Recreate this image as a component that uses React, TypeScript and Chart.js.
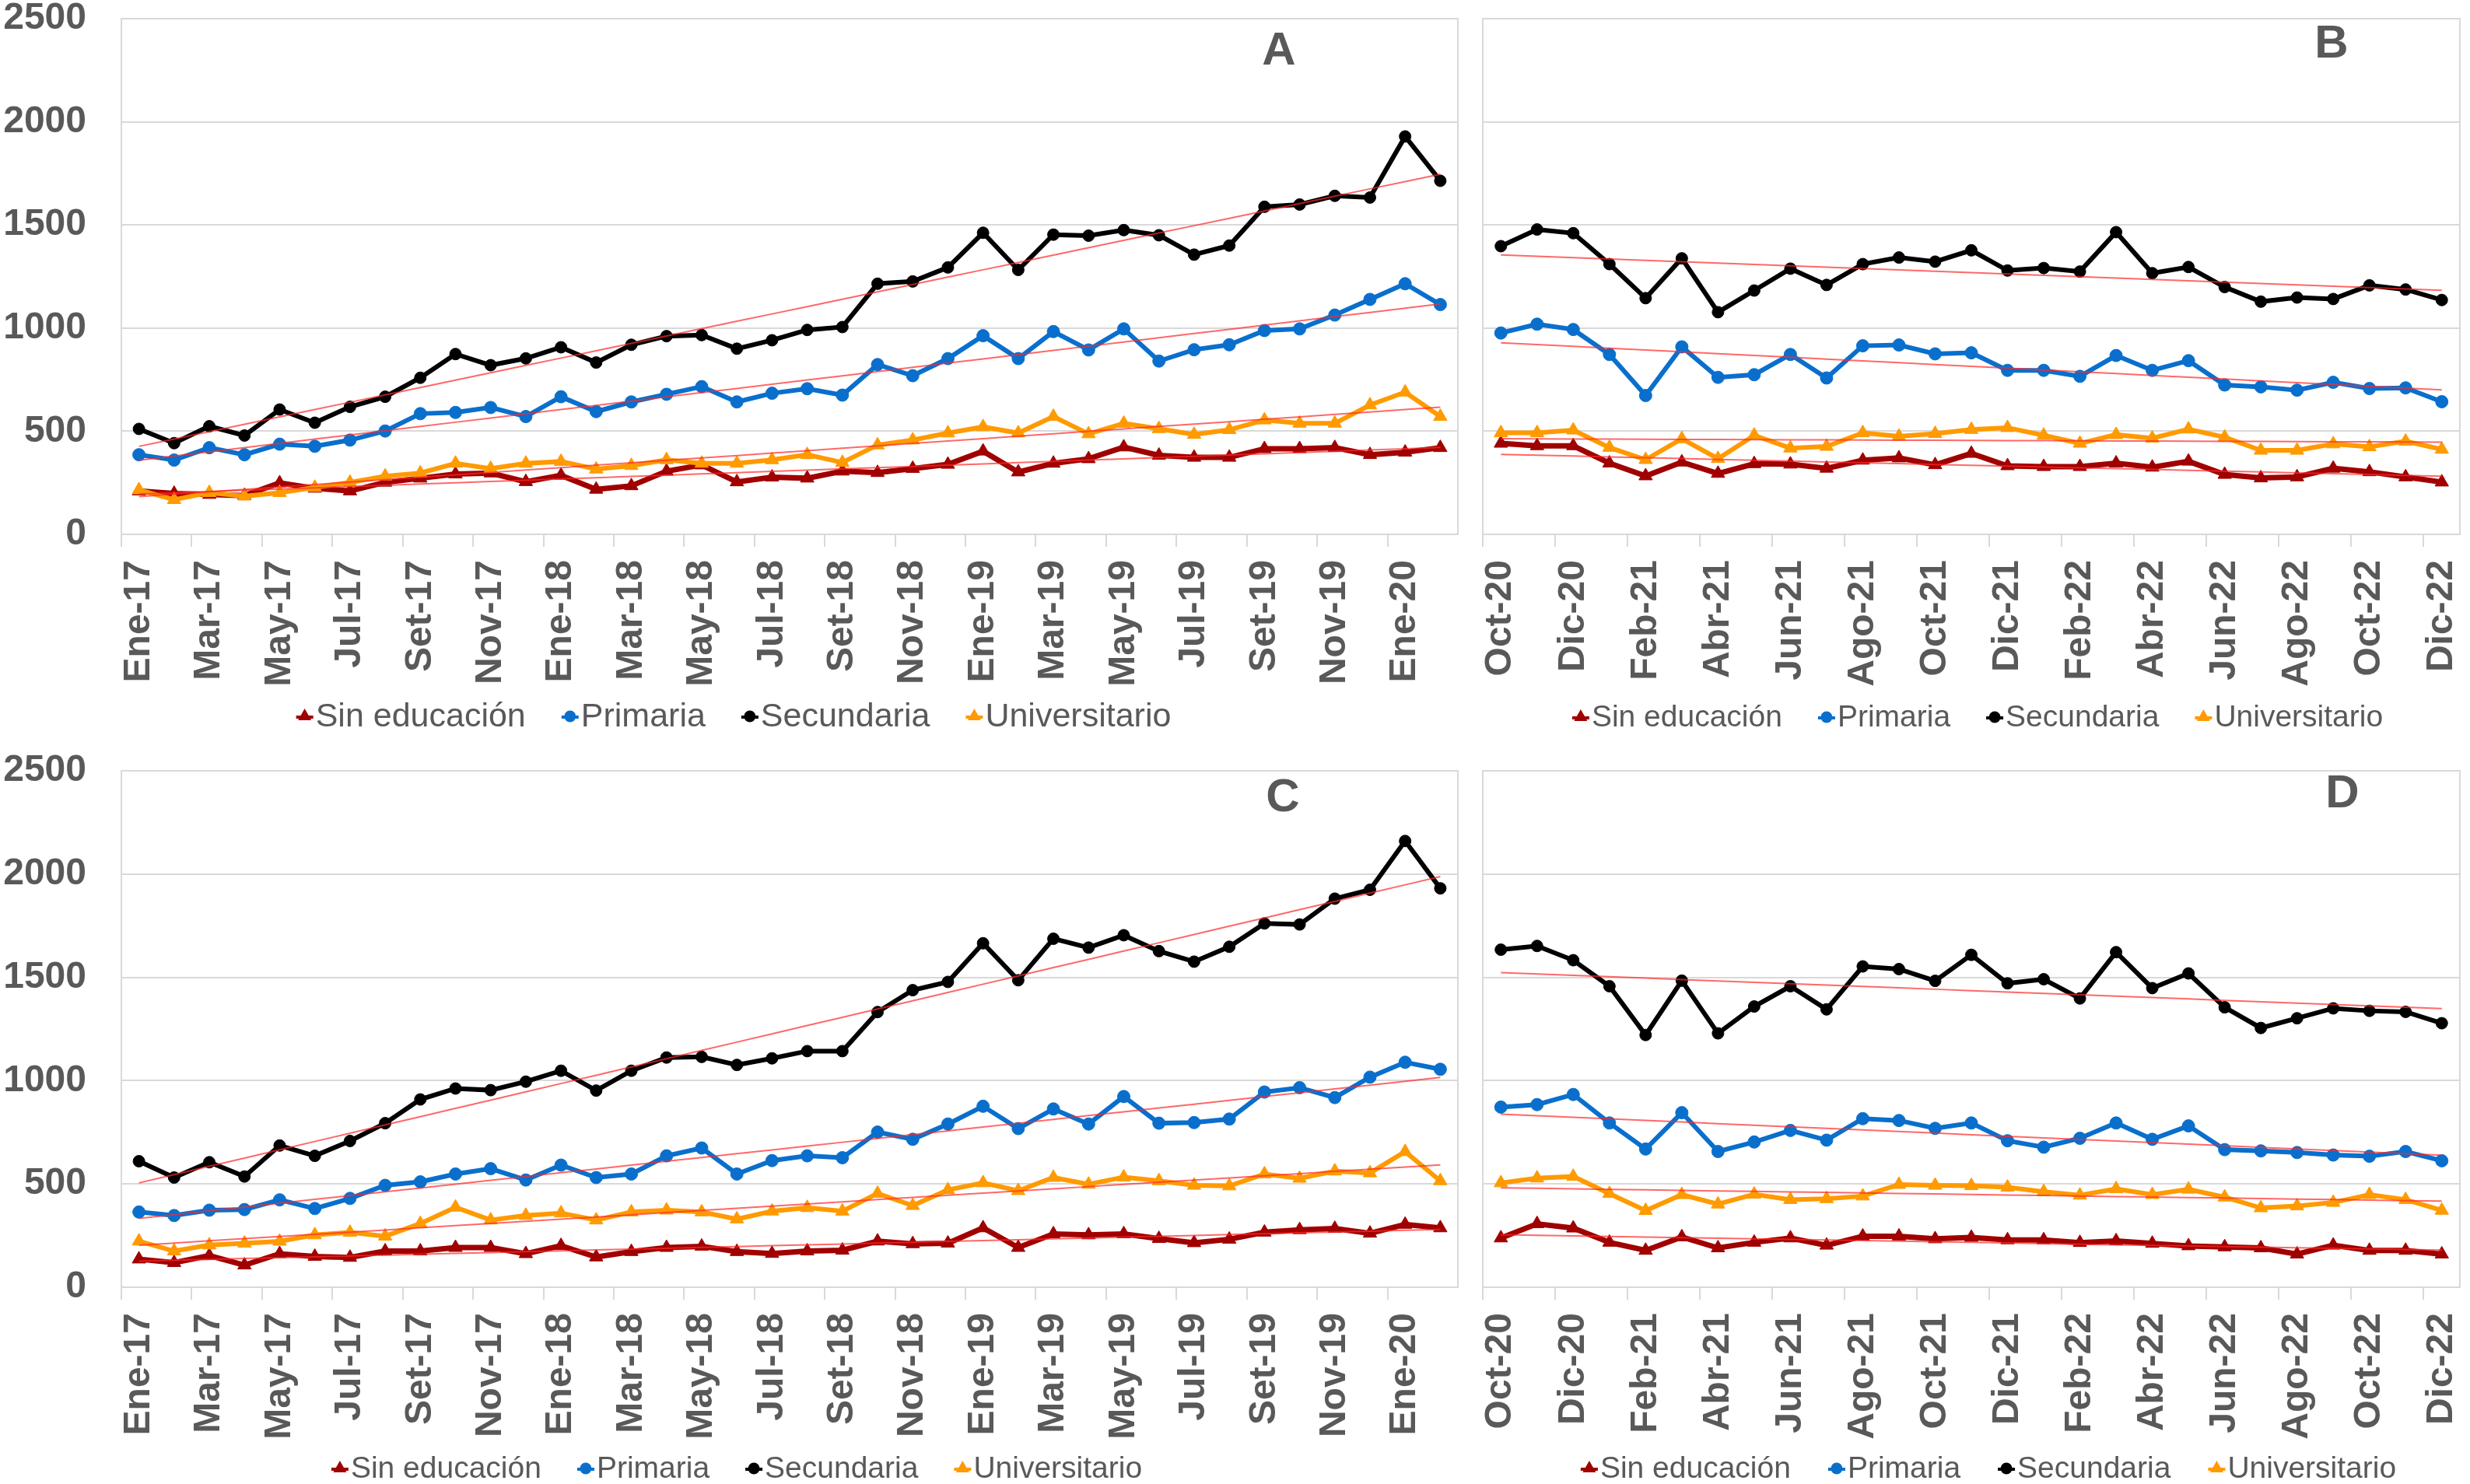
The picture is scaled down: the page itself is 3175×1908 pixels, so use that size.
import React, { useEffect, useRef } from 'react';
import { Chart, registerables } from 'chart.js';

Chart.register(...registerables);

const FONT = "'Liberation Sans', Arial, sans-serif";
const TEXT = '#595959';
const GRID = '#D9D9D9';

const MONTHS_1 = [
  'Ene-17', 'Feb-17', 'Mar-17', 'Abr-17', 'May-17', 'Jun-17', 'Jul-17', 'Ago-17', 'Set-17', 'Oct-17', 'Nov-17', 'Dic-17',
  'Ene-18', 'Feb-18', 'Mar-18', 'Abr-18', 'May-18', 'Jun-18', 'Jul-18', 'Ago-18', 'Set-18', 'Oct-18', 'Nov-18', 'Dic-18',
  'Ene-19', 'Feb-19', 'Mar-19', 'Abr-19', 'May-19', 'Jun-19', 'Jul-19', 'Ago-19', 'Set-19', 'Oct-19', 'Nov-19', 'Dic-19',
  'Ene-20', 'Feb-20',
];
const MONTHS_2 = [
  'Oct-20', 'Nov-20', 'Dic-20',
  'Ene-21', 'Feb-21', 'Mar-21', 'Abr-21', 'May-21', 'Jun-21', 'Jul-21', 'Ago-21', 'Set-21', 'Oct-21', 'Nov-21', 'Dic-21',
  'Ene-22', 'Feb-22', 'Mar-22', 'Abr-22', 'May-22', 'Jun-22', 'Jul-22', 'Ago-22', 'Set-22', 'Oct-22', 'Nov-22', 'Dic-22',
];

const SERIES_NAMES = ['Sin educación', 'Primaria', 'Secundaria', 'Universitario'];
const SERIES_COLORS = ['#A00000', '#0A6FCC', '#000000', '#FF9A00'];
const SERIES_MARKERS = ['triangle', 'circle', 'circle', 'triangle'];
const SERIES_WIDTHS = [7, 6, 6, 6];
const SERIES_RADII = [10, 8, 7.5, 10];

// Panel A
const A_SIN = [210, 198, 193, 188, 249, 223, 210, 252, 272, 292, 297, 255, 286, 218, 235, 306, 336, 254, 277, 272, 306, 299, 319, 339, 403, 302, 344, 366, 423, 383, 373, 373, 415, 415, 420, 386, 398, 420];
const A_PRI = [386, 360, 420, 386, 437, 427, 457, 501, 585, 591, 615, 571, 667, 595, 642, 679, 716, 642, 684, 706, 675, 823, 769, 852, 963, 852, 983, 894, 996, 840, 895, 919, 988, 996, 1063, 1139, 1215, 1114];
const A_SEC = [511, 442, 524, 479, 605, 541, 618, 667, 759, 874, 820, 853, 907, 833, 919, 961, 966, 900, 941, 991, 1005, 1215, 1226, 1294, 1462, 1282, 1453, 1448, 1475, 1450, 1356, 1400, 1588, 1599, 1641, 1633, 1929, 1714];
const A_UNI = [215, 168, 202, 185, 202, 227, 252, 282, 297, 344, 319, 344, 353, 316, 333, 361, 344, 344, 361, 386, 348, 433, 457, 491, 521, 491, 571, 487, 538, 512, 484, 507, 554, 538, 538, 627, 689, 571];

// Panel B
const B_SIN = [441, 429, 429, 345, 283, 350, 295, 342, 340, 320, 359, 370, 337, 392, 332, 328, 328, 345, 325, 354, 290, 273, 278, 320, 303, 278, 253];
const B_PRI = [976, 1019, 993, 872, 673, 909, 761, 774, 872, 758, 914, 918, 875, 880, 795, 795, 766, 867, 795, 842, 724, 715, 699, 737, 707, 710, 643];
const B_SEC = [1397, 1478, 1460, 1310, 1145, 1338, 1077, 1182, 1288, 1209, 1310, 1342, 1322, 1377, 1279, 1291, 1274, 1465, 1266, 1296, 1199, 1128, 1148, 1141, 1207, 1187, 1136];
const B_UNI = [492, 492, 505, 421, 362, 463, 367, 480, 418, 426, 492, 475, 488, 508, 517, 480, 441, 483, 466, 510, 471, 407, 407, 438, 424, 451, 412];

// Panel C
const C_SIN = [136, 119, 153, 107, 162, 149, 144, 175, 175, 192, 192, 162, 201, 146, 172, 192, 198, 172, 163, 175, 179, 223, 210, 213, 287, 192, 258, 253, 258, 235, 215, 232, 266, 278, 284, 261, 304, 287];
const C_PRI = [364, 347, 373, 376, 423, 381, 430, 493, 510, 548, 574, 519, 591, 531, 548, 636, 674, 548, 613, 636, 627, 751, 716, 790, 876, 768, 863, 790, 923, 794, 797, 814, 945, 966, 918, 1017, 1089, 1055];
const C_SEC = [610, 531, 605, 536, 686, 636, 708, 794, 909, 962, 954, 995, 1048, 952, 1048, 1112, 1115, 1076, 1108, 1143, 1143, 1332, 1438, 1478, 1665, 1486, 1687, 1644, 1704, 1627, 1576, 1648, 1761, 1756, 1881, 1924, 2160, 1931];
const C_UNI = [223, 175, 204, 213, 222, 253, 265, 247, 308, 387, 325, 347, 359, 325, 364, 373, 364, 330, 368, 385, 368, 454, 395, 471, 505, 467, 531, 498, 533, 515, 493, 490, 548, 527, 562, 553, 656, 515];

// Panel D
const D_SIN = [238, 307, 286, 217, 178, 243, 190, 217, 238, 203, 247, 247, 234, 241, 229, 229, 216, 224, 212, 200, 195, 190, 160, 203, 178, 178, 160];
const D_PRI = [872, 884, 933, 795, 669, 845, 657, 703, 759, 712, 816, 807, 769, 795, 709, 678, 721, 795, 716, 781, 666, 660, 652, 640, 634, 657, 612];
const D_SEC = [1634, 1652, 1583, 1457, 1221, 1484, 1229, 1359, 1457, 1345, 1553, 1540, 1483, 1609, 1471, 1491, 1398, 1622, 1448, 1519, 1355, 1255, 1302, 1350, 1338, 1333, 1278];
const D_UNI = [505, 528, 536, 453, 371, 448, 402, 450, 424, 428, 441, 497, 493, 491, 484, 462, 445, 476, 448, 474, 436, 384, 393, 410, 448, 424, 372];

function trend(v: number[]): number[] {
  const n = v.length;
  let sx = 0, sy = 0, sxy = 0, sxx = 0;
  v.forEach((y, x) => { sx += x; sy += y; sxy += x * y; sxx += x * x; });
  const b = (n * sxy - sx * sy) / (n * sxx - sx * sx);
  const a = (sy - b * sx) / n;
  return v.map((_, x) => a + b * x);
}

type PanelCfg = {
  letter: string;
  labels: string[];
  series: number[][];
  left: number; top: number; w: number; h: number;
  padTop: number; padRight: number; padBottom: number;
  yWidth: number; showY: boolean;
  legendX: number; legendY: number; legendFont: number; legendGap: number;
  letterX: number; letterY: number;
};

const PANELS: PanelCfg[] = [
  { letter: 'A', labels: MONTHS_1, series: [A_SIN, A_PRI, A_SEC, A_UNI], left: 0, top: 0, w: 1885, h: 950, padTop: 24, padRight: 5, padBottom: 63, yWidth: 156, showY: true, legendX: 943, legendY: 920, legendFont: 43, legendGap: 46, letterX: 1644, letterY: 66 },
  { letter: 'B', labels: MONTHS_2, series: [B_SIN, B_PRI, B_SEC, B_UNI], left: 1885, top: 0, w: 1290, h: 950, padTop: 24, padRight: 13, padBottom: 63, yWidth: 21, showY: false, legendX: 657, legendY: 921, legendFont: 39, legendGap: 46, letterX: 1112, letterY: 57 },
  { letter: 'C', labels: MONTHS_1, series: [C_SIN, C_PRI, C_SEC, C_UNI], left: 0, top: 960, w: 1885, h: 948, padTop: 31, padRight: 5, padBottom: 53, yWidth: 156, showY: true, legendX: 947, legendY: 927, legendFont: 39, legendGap: 46, letterX: 1649, letterY: 66 },
  { letter: 'D', labels: MONTHS_2, series: [D_SIN, D_PRI, D_SEC, D_UNI], left: 1885, top: 960, w: 1290, h: 948, padTop: 31, padRight: 13, padBottom: 53, yWidth: 21, showY: false, legendX: 671, legendY: 927, legendFont: 39, legendGap: 48, letterX: 1126, letterY: 61 },
];

const decoPlugin = {
  id: 'deco',
  beforeDatasetsDraw(chart: any) {
    const { ctx, chartArea } = chart;
    ctx.save();
    ctx.strokeStyle = GRID;
    ctx.lineWidth = 2;
    ctx.strokeRect(chartArea.left, chartArea.top, chartArea.right - chartArea.left, chartArea.bottom - chartArea.top);
    ctx.restore();
  },
  afterDraw(chart: any, _args: any, opts: any) {
    const ctx = chart.ctx;
    ctx.save();
    // panel letter
    ctx.font = `bold 60px ${FONT}`;
    ctx.fillStyle = TEXT;
    ctx.textAlign = 'center';
    ctx.textBaseline = 'middle';
    ctx.fillText(opts.letter, opts.letterX, opts.letterY);
    // legend
    ctx.font = `${opts.legendFont}px ${FONT}`;
    ctx.textAlign = 'left';
    const MW = 22, GAP = 3, SP = opts.legendGap;
    const widths = SERIES_NAMES.map((n) => MW + GAP + ctx.measureText(n).width);
    const total = widths.reduce((a, b) => a + b, 0) + SP * (SERIES_NAMES.length - 1);
    let x = opts.legendX - total / 2;
    const ly = opts.legendY;
    SERIES_NAMES.forEach((name, i) => {
      const color = SERIES_COLORS[i];
      const mx = x + MW / 2;
      ctx.strokeStyle = color;
      ctx.fillStyle = color;
      ctx.lineWidth = 4;
      ctx.beginPath();
      ctx.moveTo(x, ly + 2);
      ctx.lineTo(x + MW, ly + 2);
      ctx.stroke();
      ctx.beginPath();
      if (SERIES_MARKERS[i] === 'triangle') {
        ctx.moveTo(mx, ly - 9);
        ctx.lineTo(mx + 8.5, ly + 6);
        ctx.lineTo(mx - 8.5, ly + 6);
        ctx.closePath();
      } else {
        ctx.arc(mx, ly + 1, 7.5, 0, Math.PI * 2);
      }
      ctx.fill();
      ctx.fillStyle = TEXT;
      ctx.fillText(name, x + MW + GAP, ly + 2);
      x += widths[i] + SP;
    });
    ctx.restore();
  },
};

function buildConfig(p: PanelCfg): any {
  const main = p.series.map((vals, i) => ({
    label: SERIES_NAMES[i],
    data: vals,
    borderColor: SERIES_COLORS[i],
    backgroundColor: SERIES_COLORS[i],
    borderWidth: SERIES_WIDTHS[i],
    pointStyle: SERIES_MARKERS[i],
    pointRadius: SERIES_RADII[i],
    pointBorderWidth: 1,
    pointBorderColor: SERIES_COLORS[i],
    pointBackgroundColor: SERIES_COLORS[i],
    tension: 0,
    order: 4 - i,
  }));
  const trends = p.series.map((vals, i) => ({
    label: 'trend-' + SERIES_NAMES[i],
    data: trend(vals),
    borderColor: 'rgba(255,40,40,0.7)',
    borderWidth: 2,
    pointRadius: 0,
    tension: 0,
    order: 0,
  }));
  const tickFont = { family: FONT, size: 48, weight: 'bold' as const, lineHeight: 1 };
  return {
    type: 'line',
    data: { labels: p.labels, datasets: [...main, ...trends] },
    options: {
      animation: false,
      responsive: false,
      devicePixelRatio: 1,
      events: [],
      layout: { padding: { left: 0, right: p.padRight, top: p.padTop, bottom: p.padBottom } },
      plugins: {
        legend: { display: false },
        tooltip: { enabled: false },
        deco: { letter: p.letter, legendX: p.legendX, legendY: p.legendY, legendFont: p.legendFont, legendGap: p.legendGap, letterX: p.letterX, letterY: p.letterY },
      },
      scales: {
        x: {
          type: 'category',
          offset: true,
          border: { display: false },
          grid: {
            display: true,
            offset: true,
            drawOnChartArea: false,
            drawTicks: true,
            tickLength: 16,
            lineWidth: 2,
            color: (ctx: any) => (ctx.index % 2 === 0 ? GRID : 'rgba(0,0,0,0)'),
          },
          ticks: {
            autoSkip: false,
            minRotation: 90,
            maxRotation: 90,
            padding: 17,
            color: TEXT,
            font: tickFont,
            callback: (_v: any, i: number) => (i % 2 === 0 ? p.labels[i] : ''),
          },
          afterFit: (s: any) => { s.height = 200; s.paddingLeft = 0; s.paddingRight = 0; },
        },
        y: {
          min: 0,
          max: 2500,
          border: { display: false },
          grid: { color: GRID, lineWidth: 2, drawTicks: false },
          ticks: {
            stepSize: 500,
            display: p.showY,
            padding: 45,
            color: TEXT,
            font: tickFont,
            callback: (v: any) => String(v),
          },
          afterFit: (s: any) => { s.width = p.yWidth; s.paddingTop = 0; s.paddingBottom = 0; },
        },
      },
    },
    plugins: [decoPlugin],
  };
}

function Panel({ cfg }: { cfg: PanelCfg }) {
  const ref = useRef<HTMLCanvasElement>(null);
  useEffect(() => {
    const chart = new Chart(ref.current as HTMLCanvasElement, buildConfig(cfg));
    return () => chart.destroy();
  }, [cfg]);
  return (
    <canvas
      ref={ref}
      width={cfg.w}
      height={cfg.h}
      style={{ position: 'absolute', left: cfg.left, top: cfg.top, width: cfg.w, height: cfg.h }}
    />
  );
}

export default function App() {
  return (
    <div style={{ position: 'absolute', left: 0, top: 0, width: 3175, height: 1908, background: '#ffffff', overflow: 'hidden' }}>
      {PANELS.map((p) => (
        <Panel key={p.letter} cfg={p} />
      ))}
    </div>
  );
}
